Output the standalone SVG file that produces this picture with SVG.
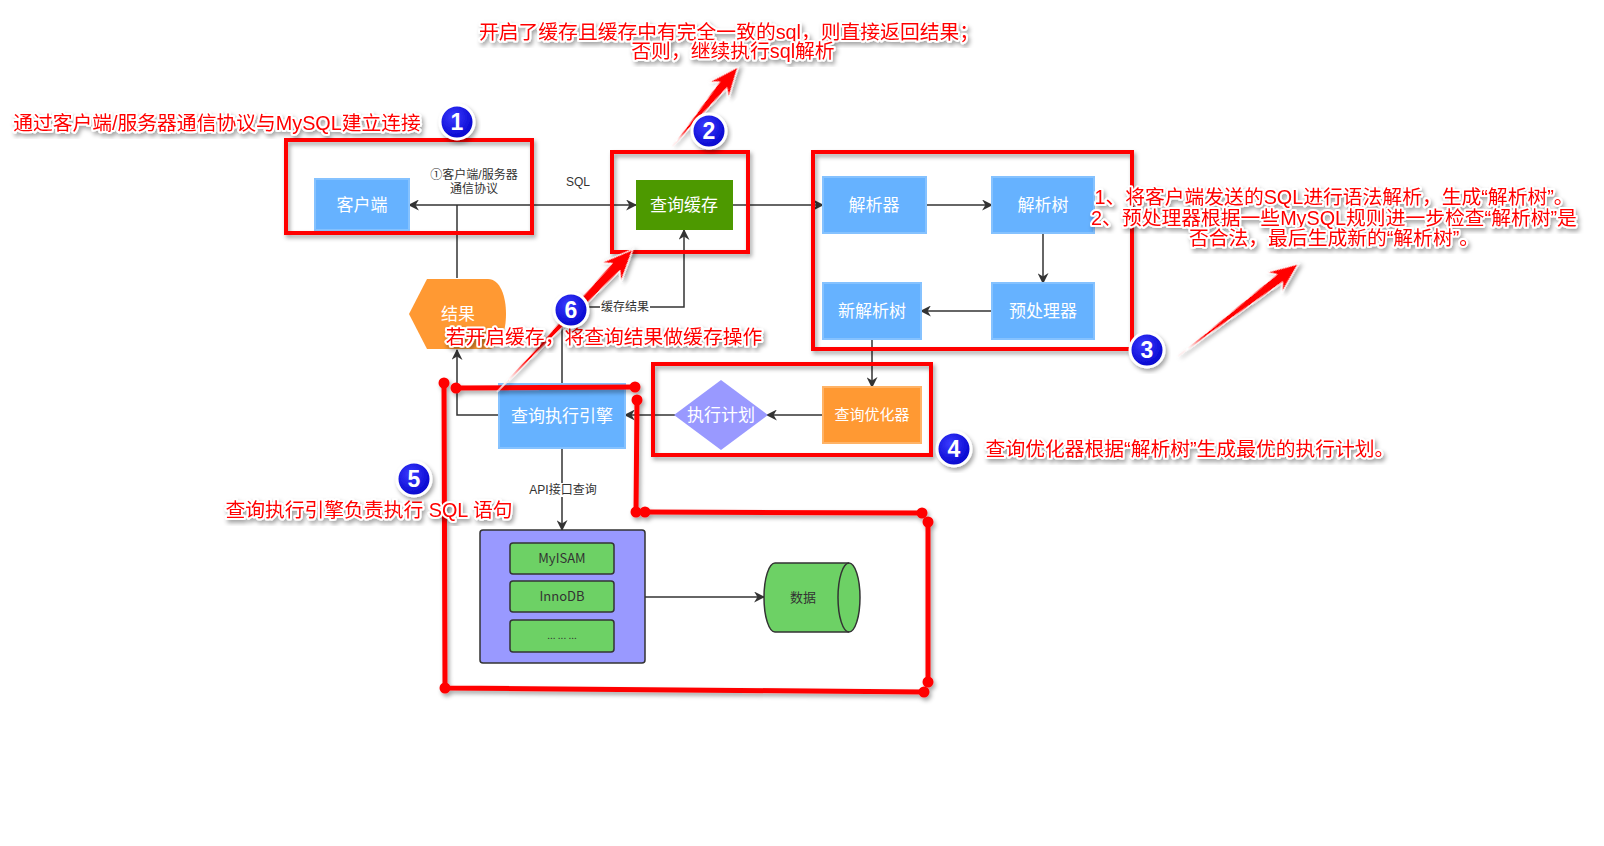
<svg xmlns="http://www.w3.org/2000/svg" width="1604" height="846" viewBox="0 0 1604 846">
<defs>
<style>
.nl{fill:#fff;font-size:17px;text-anchor:middle;font-family:"Noto Sans CJK SC",sans-serif}
.dl{fill:#333;font-size:13px;text-anchor:middle;font-family:"Noto Sans CJK SC",sans-serif}
.sl{fill:#333;font-size:12px;text-anchor:middle;font-family:"Liberation Sans","Noto Sans CJK SC",sans-serif}
.blue{fill:#66b2ff;stroke:#85c2ff;stroke-width:2}
.eng{fill:#6dd165;stroke:#333;stroke-width:1.5}
.edge{fill:none;stroke:#333;stroke-width:1.5}
.rbox{fill:none;stroke:#ff0000;stroke-width:4;filter:url(#sh)}
.ann{font-family:"Liberation Sans","Noto Sans CJK SC",sans-serif;font-size:19.8px;fill:#ff0000;stroke:#fff;stroke-width:4;stroke-linejoin:round;paint-order:stroke;text-anchor:middle;filter:url(#sh)}
.badge circle{fill:url(#bg);stroke:#fff;stroke-width:3;filter:url(#sh)}
.badge text{fill:#fff;font-family:"Liberation Sans",sans-serif;font-weight:bold;font-size:23px;text-anchor:middle}
.rarr{fill:#ff0000;stroke:#fff;stroke-width:1.2;filter:url(#sh)}
.rl{fill:none;stroke:#ff0000;stroke-width:5;stroke-linecap:round}
.rd{fill:#ff0000}
</style>
<filter id="sh" x="-20%" y="-20%" width="140%" height="140%">
<feDropShadow dx="2" dy="3" stdDeviation="2" flood-color="#000" flood-opacity="0.35"/>
</filter>
<radialGradient id="bg" cx="0.4" cy="0.35" r="0.7">
<stop offset="0" stop-color="#3b3bff"/>
<stop offset="1" stop-color="#0000c8"/>
</radialGradient>
<marker id="ah" viewBox="0 0 10 10" refX="9" refY="5" markerWidth="11" markerHeight="11" markerUnits="userSpaceOnUse" orient="auto-start-reverse">
<path d="M0,0 L10,5 L0,10 L3,5 Z" fill="#333"/>
</marker>
</defs>
<rect width="1604" height="846" fill="#fff"/>

<g id="connectors">
<path class="edge" d="M409,205 L636,205" marker-start="url(#ah)" marker-end="url(#ah)"/>
<path class="edge" d="M457,278 L457,205"/>
<path class="edge" d="M733,205 L823,205" marker-end="url(#ah)"/>
<path class="edge" d="M926,205 L992,205" marker-end="url(#ah)"/>
<path class="edge" d="M1043,233 L1043,283" marker-end="url(#ah)"/>
<path class="edge" d="M992,311 L921,311" marker-end="url(#ah)"/>
<path class="edge" d="M872,339 L872,387" marker-end="url(#ah)"/>
<path class="edge" d="M823,415 L767,415" marker-end="url(#ah)"/>
<path class="edge" d="M675,415 L625,415" marker-end="url(#ah)"/>
<path class="edge" d="M499,415 L457,415 L457,350" marker-end="url(#ah)"/>
<path class="edge" d="M562,384 L562,307 L684,307 L684,230" marker-end="url(#ah)"/>
<path class="edge" d="M562,448 L562,530" marker-end="url(#ah)"/>
<path class="edge" d="M645,597 L764,597" marker-end="url(#ah)"/>
<rect x="600" y="300" width="50" height="14" fill="#fff"/>
<text class="sl" x="625" y="311">缓存结果</text>
<rect x="527" y="483" width="72" height="14" fill="#fff"/>
<text class="sl" x="563" y="494">API接口查询</text>
<text class="sl" x="474" y="179">①客户端/服务器</text>
<text class="sl" x="474" y="193">通信协议</text>
<text class="sl" x="578" y="186">SQL</text>
</g>

<g id="client" class="node"><rect class="blue" x="315" y="179" width="94" height="51"/><text class="nl" x="362" y="211">客户端</text></g>
<g id="cache" class="node"><rect x="636" y="180" width="97" height="50" fill="#4d9900"/><text class="nl" x="684" y="211">查询缓存</text></g>
<g id="parser" class="node"><rect class="blue" x="823" y="177" width="103" height="56"/><text class="nl" x="874" y="211">解析器</text></g>
<g id="parsetree" class="node"><rect class="blue" x="992" y="177" width="102" height="56"/><text class="nl" x="1043" y="211">解析树</text></g>
<g id="preproc" class="node"><rect class="blue" x="992" y="283" width="102" height="56"/><text class="nl" x="1043" y="317">预处理器</text></g>
<g id="newtree" class="node"><rect class="blue" x="823" y="283" width="98" height="56"/><text class="nl" x="872" y="317">新解析树</text></g>
<g id="optimizer" class="node"><rect x="823" y="387" width="98" height="56" fill="#ff9933" stroke="#ffb366" stroke-width="2"/><text class="nl" x="872" y="420" style="font-size:15px">查询优化器</text></g>
<g id="plan" class="node"><path d="M721,380 L768,415 L721,450 L674,415 Z" fill="#9999ff"/><text class="nl" x="721" y="421">执行计划</text></g>
<g id="engine" class="node"><rect class="blue" x="499" y="384" width="126" height="64"/><text class="nl" x="562" y="422">查询执行引擎</text></g>
<g id="result" class="node"><path d="M409,314 L427,279 L488,279 C500,279 506,296 506,314 C506,332 500,349 488,349 L427,349 Z" fill="#ff9933"/><text class="nl" x="458" y="320">结果</text></g>
<g id="storage" class="node">
<rect x="480" y="530" width="165" height="133" rx="3" fill="#9999ff" stroke="#333" stroke-width="1.5"/>
<rect class="eng" x="510" y="543" width="104" height="31" rx="3"/><text class="dl" x="562" y="563">MyISAM</text>
<rect class="eng" x="510" y="581" width="104" height="31" rx="3"/><text class="dl" x="562" y="601">InnoDB</text>
<rect class="eng" x="510" y="620" width="104" height="32" rx="3"/><text class="dl" x="562" y="639" style="font-size:10px">... ... ...</text>
</g>
<g id="data" class="node">
<path d="M775,563 L849,563 A11,34.5 0 0 1 849,632 L775,632 A11,34.5 0 0 1 775,563 Z" fill="#6dd165" stroke="#333" stroke-width="1.5"/>
<path d="M849,632 A11,34.5 0 0 1 849,563" fill="none" stroke="#333" stroke-width="1.5"/>
<text class="dl" x="803" y="602">数据</text>
</g>

<g id="annotations">
<rect class="rbox" x="286" y="140" width="246" height="93"/>
<rect class="rbox" x="612" y="152" width="136" height="100"/>
<rect class="rbox" x="813" y="152" width="319" height="197"/>
<rect class="rbox" x="653" y="364" width="278" height="91"/>
<g filter="url(#sh)">
<path class="rl" d="M444,383 L445,688 M456,388 L635,387 M637,400 L636,512 M645,512 L922,513 M928,522 L928,682 M445,688 L924,692"/>
<circle class="rd" cx="444" cy="383" r="5.5"/><circle class="rd" cx="456" cy="388" r="5.5"/>
<circle class="rd" cx="635" cy="387" r="5.5"/><circle class="rd" cx="637" cy="400" r="5.5"/>
<circle class="rd" cx="636" cy="512" r="5.5"/><circle class="rd" cx="645" cy="512" r="5.5"/>
<circle class="rd" cx="922" cy="513" r="5.5"/><circle class="rd" cx="928" cy="522" r="5.5"/>
<circle class="rd" cx="928" cy="682" r="5.5"/><circle class="rd" cx="924" cy="692" r="5.5"/>
<circle class="rd" cx="445" cy="688" r="5.5"/>
</g>
<path class="rarr" transform="translate(672,147) rotate(-50.5)" d="M0,0 L80,-5 L73,-13 L104,0 L73,13 L80,5 Z"/>
<path class="rarr" transform="translate(1177,357) rotate(-37.5)" d="M0,0 L129,-5 L122,-13 L153,0 L122,13 L129,5 Z"/>
<path class="rarr" transform="translate(497,392) rotate(-46.4)" d="M0,0 L172,-5.5 L165,-14 L197,0 L165,14 L172,5.5 Z"/>

<text class="ann" x="217" y="130">通过客户端/服务器通信协议与MySQL建立连接</text>
<text class="ann" x="729" y="39">开启了缓存且缓存中有完全一致的sql，则直接返回结果；</text>
<text class="ann" x="733" y="58">否则，继续执行sql解析</text>
<text class="ann" x="1334" y="204">1、将客户端发送的SQL进行语法解析，生成“解析树”。</text>
<text class="ann" x="1334" y="225">2、预处理器根据一些MySQL规则进一步检查“解析树”是</text>
<text class="ann" x="1334" y="245">否合法，最后生成新的“解析树”。</text>
<text class="ann" x="1190" y="456">查询优化器根据“解析树”生成最优的执行计划。</text>
<text class="ann" x="369" y="517">查询执行引擎负责执行 SQL 语句</text>
<text class="ann" x="604" y="344">若开启缓存，将查询结果做缓存操作</text>

<g class="badge"><circle cx="457" cy="122" r="17"/><text x="457" y="130">1</text></g>
<g class="badge"><circle cx="709" cy="131" r="17"/><text x="709" y="139">2</text></g>
<g class="badge"><circle cx="1147" cy="350" r="17"/><text x="1147" y="358">3</text></g>
<g class="badge"><circle cx="954" cy="449" r="17"/><text x="954" y="457">4</text></g>
<g class="badge"><circle cx="414" cy="479" r="17"/><text x="414" y="487">5</text></g>
<g class="badge"><circle cx="571" cy="310" r="17"/><text x="571" y="318">6</text></g>
</g>
</svg>
